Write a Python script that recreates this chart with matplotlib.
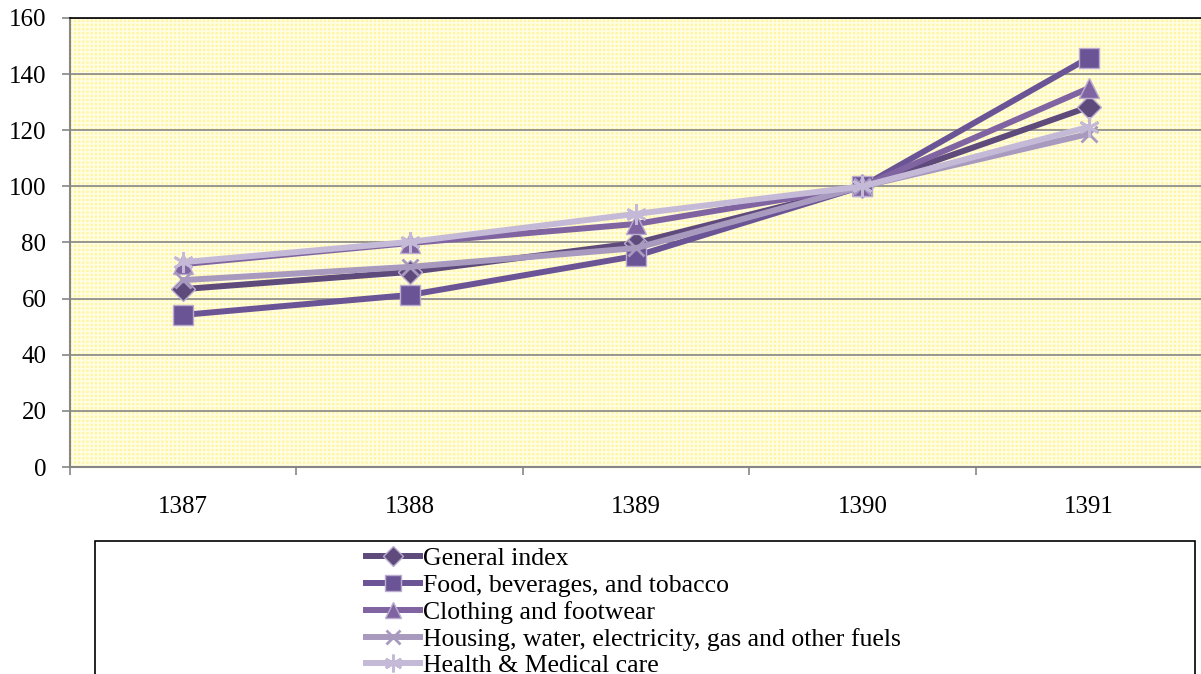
import numpy as np
import matplotlib.pyplot as plt
from matplotlib.patches import Rectangle

# Daten
years = ["1387", "1388", "1389", "1390", "1391"]
general = [63.4, 69.5, 79.8, 100, 128.3]
food = [54.2, 61.3, 75.2, 100, 145.8]
clothing = [72.3, 79.8, 86.6, 100, 135.0]
housing = [66.6, 71.3, 78.0, 100, 118.7]
health = [73.0, 80.2, 90.2, 100, 121.2]

labels = ["General index", "Food, beverages, and tobacco", "Clothing and footwear",
          "Housing, water, electricity, gas and other fuels", "Health & Medical care"]
colors = ["#5f4a7c", "#6b5495", "#8064a2", "#a79abe", "#c4bad8"]
markers = ["D", "s", "^", "x", (6, 2, 0)]
msizes = [12, 14, 14, 12, 15]

plt.rcParams['font.family'] = ['Liberation Serif', 'DejaVu Serif']
plt.rcParams['hatch.linewidth'] = 1.2
plt.rcParams['hatch.color'] = '#fffde4'

fig = plt.figure(figsize=(12.01, 6.74), dpi=100)
ax = fig.add_axes([70/1201, 1-467/674, 1132/1201, 449/674])

# Hintergrund mit Gittermuster
ax.patch.set_facecolor('#fff5a6')
bg = Rectangle((0, 0), 1, 1, transform=ax.transAxes, facecolor='#fff5a6',
               hatch='++++', edgecolor='#fffde4', linewidth=0, zorder=0)
ax.add_patch(bg)

x = np.arange(len(years))
series = [general, food, clothing, housing, health]
for i, vals in enumerate(series):
    if i < 3:
        ax.plot(x, vals, color=colors[i], lw=4.3, marker=markers[i], ms=msizes[i],
                markerfacecolor=colors[i], markeredgecolor='#b9acd0', markeredgewidth=1.0,
                label=labels[i], zorder=3 + i)
    else:
        ax.plot(x, vals, color=colors[i], lw=4.3, marker=markers[i], ms=msizes[i],
                markeredgecolor=colors[i], markeredgewidth=2.0,
                label=labels[i], zorder=3 + i)

ax.set_xlim(-0.5, 4.5)
ax.set_ylim(0, 160)
ax.set_yticks(np.arange(0, 161, 20))
ax.grid(axis='y', color='#868686', lw=1.2, zorder=1)
ax.set_axisbelow(True)

ax.set_xticks(np.arange(-0.5, 4.6, 1))
ax.set_xticklabels([])
ax.set_xticks(x, minor=True)
ax.set_xticklabels(years, minor=True)
ax.tick_params(axis='x', which='major', length=6, width=1.2, color='#868686')
ax.tick_params(axis='x', which='minor', length=0, pad=21, labelsize=18)
ax.tick_params(axis='y', length=6, width=1.2, color='#868686', pad=11, labelsize=18)

for s in ['left', 'bottom']:
    ax.spines[s].set_color('#868686')
    ax.spines[s].set_linewidth(1.5)
ax.spines['top'].set_color('black')
ax.spines['top'].set_linewidth(1.2)
ax.spines['right'].set_visible(False)

# Legende
frame = Rectangle((95/1201, -0.1), 1100/1201, 0.1 + 1 - 541/674, transform=fig.transFigure,
                  facecolor='white', edgecolor='black', linewidth=1.2, clip_on=False)
fig.add_artist(frame)
h, l = ax.get_legend_handles_labels()
leg = fig.legend(h, l, loc='upper left', bbox_to_anchor=(366/1201, 1-547/674),
                 frameon=False, fontsize=18.5, borderpad=0, borderaxespad=0,
                 handlelength=2.1, handletextpad=0.1, labelspacing=0.15, markerscale=0.85)

fig.savefig('out.png', dpi=100)
